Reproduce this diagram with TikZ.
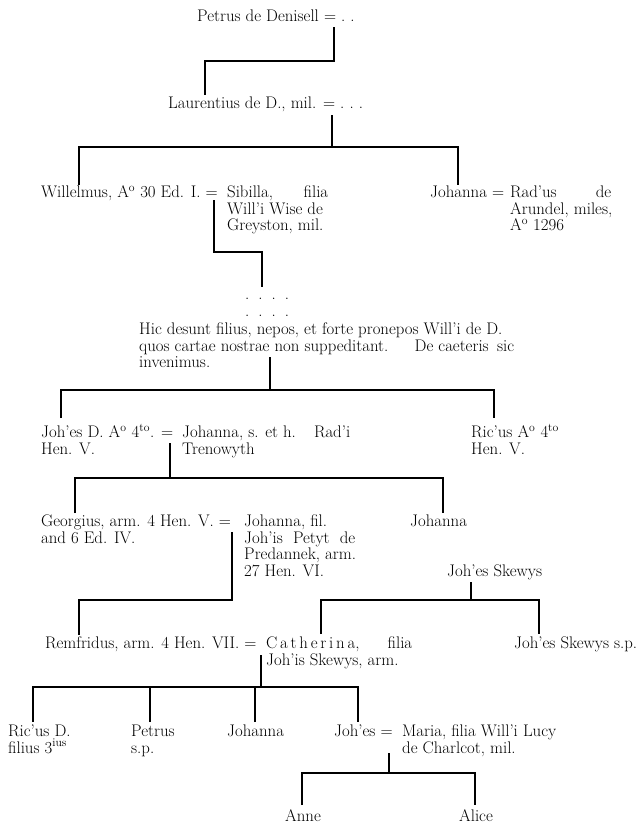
\documentclass[tikz,border=0pt]{standalone}
\usepackage{fontspec}
\newcommand\genfont{\fontsize{16.8}{16.6}\selectfont\addfontfeatures{FakeBold=0.6}}
\newcommand\spread[2]{\makebox[#1][s]{#2}}
\newcommand\os[1]{\oldstylenums{#1}}
\begin{document}
\begin{tikzpicture}[x=1pt,y=-1pt,
  person/.style={anchor=base west, inner sep=0pt, align=left, font=\genfont},
  tree/.style={line width=1.6pt}]
\useasboundingbox (0,0) rectangle (640,823);
\node[person] (pet) at (197,21.5){Petrus de Denisell = .\ .};
\node[person] (lau) at (168,108.5){Laurentius de D., mil. = .\ .\ .};
\node[person] (wil) at (41,197.5){Willelmus, A\textsuperscript{o} \os{30} Ed. I. =};
\node[person] (sib) at (227,230.7){\spread{101pt}{Sibilla,\hfill filia}\\Will'i Wise de\\Greyston, mil.};
\node[person] (joa) at (430,197.5){Johanna =};
\node[person] (rad) at (510,230.7){\spread{101pt}{Rad'us\hfill de}\\Arundel, miles,\\A\textsuperscript{o} \os{1296}};
\node[person] (gap) at (245,316){.\hspace{9pt}.\hspace{9pt}.\hspace{9pt}.\\.\hspace{9pt}.\hspace{9pt}.\hspace{9pt}.};
\node[person] (hic) at (139,367.7){Hic desunt filius, nepos, et forte pronepos Will'i de D.\\\spread{375pt}{quos cartae nostrae non suppeditant.\hfill De caeteris\hspace{.5em}sic}\\invenimus.};
\node[person] (joh) at (41,454.1){Joh'es D. A\textsuperscript{o} \os{4}\textsuperscript{to}. =\\Hen. V.};
\node[person] (jna) at (182,454.1){\spread{168pt}{Johanna, s. et h.\hfill Rad'i}\\Trenowyth};
\node[person] (ric) at (471,454.1){Ric'us A\textsuperscript{o} \os{4}\textsuperscript{to}\\Hen. V.};
\node[person] (geo) at (41,543.1){Georgius, arm. \os{4} Hen. V. =\\and 6 Ed. IV.};
\node[person] (jpe) at (244,576.3){Johanna, fil.\\\spread{111pt}{Joh'is\hfill Petyt\hfill de}\\Predannek, arm.\\27 Hen. VI.};
\node[person] (jo2) at (410,526.5){Johanna};
\node[person] (sk1) at (447,576.5){Joh'es Skewys};
\node[person] (rem) at (45,648.5){Remfridus, arm. \os{4} Hen. VII. =};
\node[person] (cat) at (266,665.1){\spread{146pt}{C\,a\,t\,h\,e\,r\,i\,n\,a,\hfill filia}\\Joh'is Skewys, arm.};
\node[person] (sk2) at (514,648.5){Joh'es Skewys s.p.};
\node[person] (rcd) at (8,753.1){Ric'us D.\\filius \os{3}\textsuperscript{ius}};
\node[person] (pts) at (131,753.1){Petrus\\s.p.};
\node[person] (jo3) at (227,736.5){Johanna};
\node[person] (jhs) at (334,736.5){Joh'es =};
\node[person] (mar) at (402,753.1){Maria, filia Will'i Lucy\\de Charlcot, mil.};
\node[person] (ann) at (285,821){Anne};
\node[person] (ali) at (459,821){Alice};
\coordinate (pd) at (334,27);
\coordinate (r1) at (0,61);
\coordinate (lu) at (205,95);
\draw[tree] (pd) |- (r1 -| lu) -- (lu);
\coordinate (ld) at (332,115);
\coordinate (r2) at (0,147);
\coordinate (wu) at (79,185);
\coordinate (ju) at (458,185);
\draw[tree] (ld) -- (ld |- r2);
\draw[tree] (wu) |- (r2 -| ju) -- (ju);
\coordinate (wd) at (214,200);
\coordinate (r3) at (0,252);
\coordinate (gu) at (262,287);
\draw[tree] (wd) |- (r3 -| gu) -- (gu);
\coordinate (hd) at (270,357);
\coordinate (r4) at (0,390);
\coordinate (jhu) at (61,418);
\coordinate (ru) at (494,418);
\draw[tree] (hd) -- (hd |- r4);
\draw[tree] (jhu) |- (r4 -| ru) -- (ru);
\coordinate (jd) at (170,443);
\coordinate (r5) at (0,478);
\coordinate (geu) at (75,513);
\coordinate (j2u) at (443,513);
\draw[tree] (jd) -- (jd |- r5);
\draw[tree] (geu) |- (r5 -| j2u) -- (j2u);
\coordinate (gd) at (232,532);
\coordinate (r6) at (0,600);
\coordinate (reu) at (79,635);
\draw[tree] (gd) |- (r6 -| reu) -- (reu);
\coordinate (sd) at (471,582);
\coordinate (cau) at (321,634);
\coordinate (s2u) at (539,634);
\draw[tree] (sd) -- (sd |- r6);
\draw[tree] (cau) |- (r6 -| s2u) -- (s2u);
\coordinate (cd) at (261,655);
\coordinate (r7) at (0,687);
\coordinate (c1) at (33,722);
\coordinate (c2) at (150,722);
\coordinate (c3) at (255,722);
\coordinate (c4) at (358,722);
\draw[tree] (cd) -- (cd |- r7);
\draw[tree] (c1) |- (r7 -| c4) -- (c4);
\draw[tree] (c2) -- (c2 |- r7);
\draw[tree] (c3) -- (c3 |- r7);
\coordinate (md) at (389,753);
\coordinate (r8) at (0,773);
\coordinate (anu) at (302,805);
\coordinate (alu) at (475,805);
\draw[tree] (md) -- (md |- r8);
\draw[tree] (anu) |- (r8 -| alu) -- (alu);
\end{tikzpicture}
\end{document}
